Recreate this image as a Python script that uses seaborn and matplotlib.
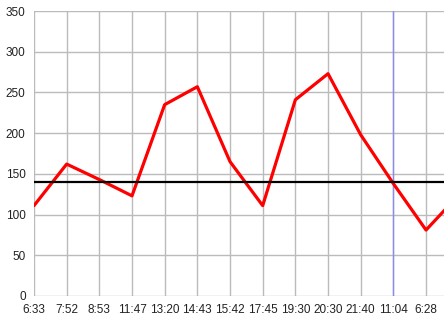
import matplotlib
matplotlib.use("Agg")
import matplotlib.pyplot as plt
import seaborn as sns
import pandas as pd
import numpy as np

times = ["6:33", "7:52", "8:53", "11:47", "13:20", "14:43", "15:42",
         "17:45", "19:30", "20:30", "21:40", "11:04", "6:28", ""]
values = [111, 162, 143, 123, 235, 257, 165, 111, 241, 273, 198, 138, 81, 124]
threshold = 140
marker_time = "11:04"

sns.set_theme(style="white")
plt.rcParams['font.family'] = ['Liberation Sans', 'DejaVu Sans']

df = pd.DataFrame({"pos": np.arange(len(values)), "value": values})

fig = plt.figure(figsize=(4.44, 3.24), dpi=100)
ax = fig.add_axes([34/444, 28/324, (444-34)/444, (296-11)/324])

sns.lineplot(data=df, x="pos", y="value", ax=ax, color="#ff0000", linewidth=2.3, zorder=4)
ax.axhline(threshold, color="black", linewidth=1.6, zorder=5)
ax.axvline(times.index(marker_time), color="#8c8cf0", linewidth=1.0, zorder=3)

n_labels = 13
ax.set_xticks(np.arange(n_labels))
ax.set_xticklabels(times[:n_labels])
ax.set_yticks(np.arange(0, 351, 50))
ax.set_ylim(0, 350)
ax.set_xlim(0, (444 - 34) / 32.67)

ax.grid(True, color="#bbbbbb", linewidth=1.0, zorder=0)
for s in ax.spines.values():
    s.set_visible(False)
ax.tick_params(axis="both", which="both", length=4, color="#bbbbbb", width=1.0,
               labelsize=8.5, labelcolor="#222222", pad=2)
ax.set_xlabel("")
ax.set_ylabel("")

fig.savefig("out.png", dpi=100)
